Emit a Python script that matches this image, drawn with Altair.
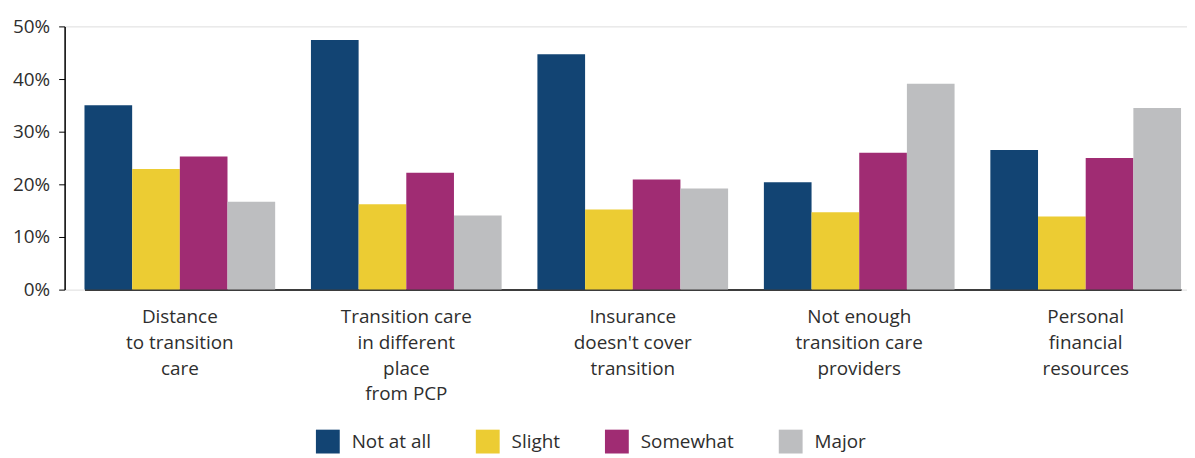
import altair as alt
import pandas as pd

categories = [
    "Distance|to transition|care",
    "Transition care|in different|place|from PCP",
    "Insurance|doesn't cover|transition",
    "Not enough|transition care|providers",
    "Personal|financial|resources",
]
levels = ["Not at all", "Slight", "Somewhat", "Major"]
not_at_all = [35.0, 47.4, 44.7, 20.4, 26.5]
slight = [22.9, 16.2, 15.2, 14.7, 13.9]
somewhat = [25.3, 22.2, 20.9, 26.0, 25.0]
major = [16.7, 14.1, 19.2, 39.1, 34.5]
colors = ["#124473", "#ECCC33", "#A02C73", "#BDBEC0"]

series = [not_at_all, slight, somewhat, major]
rows = []
for lvl, vals in zip(levels, series):
    for cat, v in zip(categories, vals):
        rows.append({"category": cat, "level": lvl, "value": v / 100})
df = pd.DataFrame(rows)

FONT = "Open Sans"
TXT = "#2e2e2e"
FS = 19

chart = (
    alt.Chart(df)
    .mark_bar()
    .encode(
        x=alt.X(
            "category:N",
            sort=categories,
            scale=alt.Scale(range=[20, 1124], paddingInner=0.158, paddingOuter=0),
            axis=alt.Axis(
                title=None,
                labelAngle=0,
                labelExpr="split(datum.label, '|')",
                ticks=False,
                labelFontSize=FS,
                labelLineHeight=26,
                labelPadding=18,
                labelColor=TXT,
                domainColor="black",
                domainWidth=1.5,
                labelFont=FONT,
            ),
        ),
        xOffset=alt.XOffset(
            "level:N", sort=levels, scale=alt.Scale(paddingInner=0, paddingOuter=0)
        ),
        y=alt.Y(
            "value:Q",
            scale=alt.Scale(domain=[0, 0.5]),
            axis=alt.Axis(
                title=None,
                format=".0%",
                values=[0, 0.1, 0.2, 0.3, 0.4, 0.5],
                grid=False,
                tickSize=6,
                tickColor="black",
                domainColor="black",
                domainWidth=1.5,
                labelFontSize=FS,
                labelPadding=9,
                labelColor=TXT,
                labelFont=FONT,
            ),
        ),
        color=alt.Color(
            "level:N",
            sort=levels,
            scale=alt.Scale(domain=levels, range=colors),
            legend=alt.Legend(
                title=None,
                orient="none",
                direction="horizontal",
                legendX=253,
                legendY=406,
                symbolType="square",
                symbolSize=576,
                symbolStrokeWidth=0,
                labelFontSize=FS,
                labelColor=TXT,
                labelFont=FONT,
                labelOffset=12,
                columnPadding=45,
            ),
        ),
    )
    .properties(
        width=1130,
        height=265,
        padding={"left": 57, "top": 17, "right": 0, "bottom": 168},
        autosize=alt.AutoSizeParams(type="none"),
    )
    .configure_view(stroke=None)
    .configure(font=FONT)
)

chart.save("out.html", embed_options={"renderer": "svg", "actions": False})
